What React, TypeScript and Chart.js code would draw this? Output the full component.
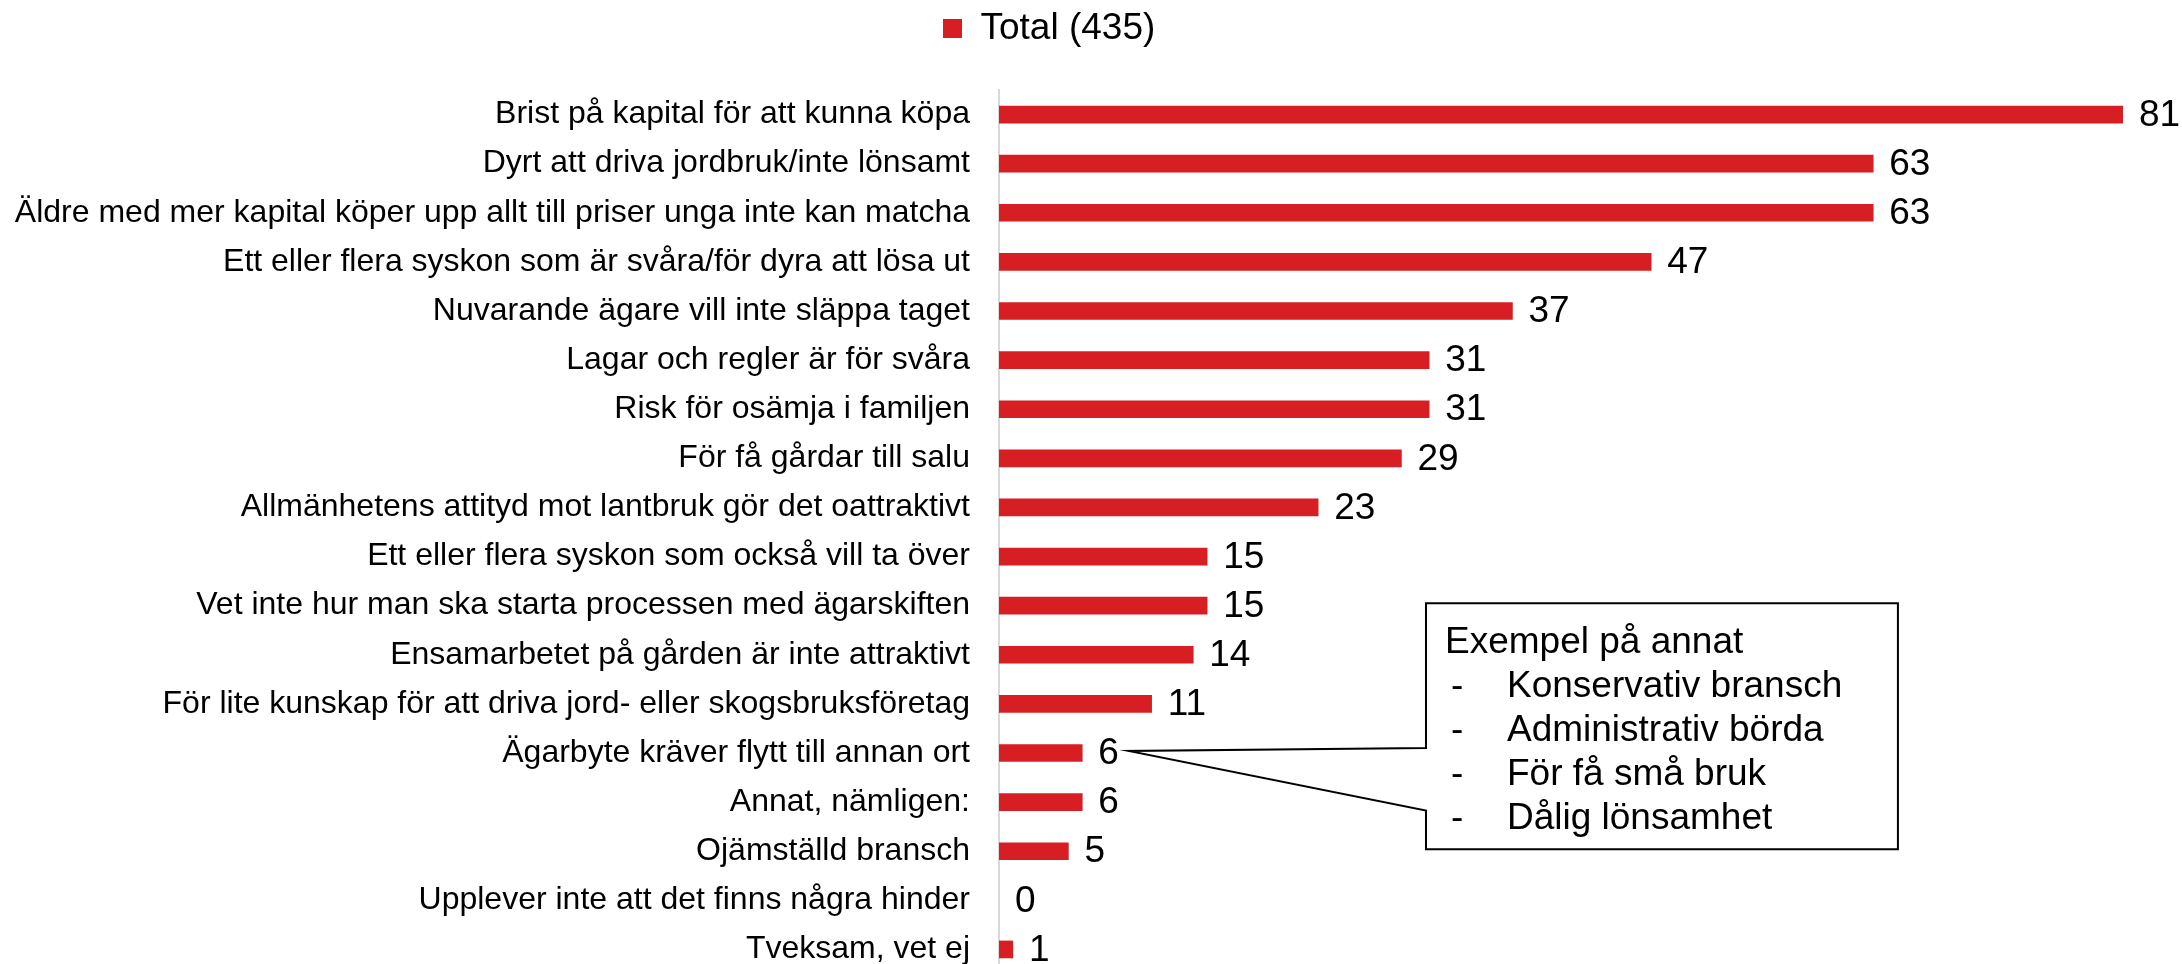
import React, { useEffect, useRef } from 'react';
import { Chart, registerables } from 'chart.js';

Chart.register(...registerables);

const categories = [
  'Brist på kapital för att kunna köpa',
  'Dyrt att driva jordbruk/inte lönsamt',
  'Äldre med mer kapital köper upp allt till priser unga inte kan matcha',
  'Ett eller flera syskon som är svåra/för dyra att lösa ut',
  'Nuvarande ägare vill inte släppa taget',
  'Lagar och regler är för svåra',
  'Risk för osämja i familjen',
  'För få gårdar till salu',
  'Allmänhetens attityd mot lantbruk gör det oattraktivt',
  'Ett eller flera syskon som också vill ta över',
  'Vet inte hur man ska starta processen med ägarskiften',
  'Ensamarbetet på gården är inte attraktivt',
  'För lite kunskap för att driva jord- eller skogsbruksföretag',
  'Ägarbyte kräver flytt till annan ort',
  'Annat, nämligen:',
  'Ojämställd bransch',
  'Upplever inte att det finns några hinder',
  'Tveksam, vet ej',
];

const totalValues = [81, 63, 63, 47, 37, 31, 31, 29, 23, 15, 15, 14, 11, 6, 6, 5, 0, 1];
const seriesLabel = 'Total (435)';

const calloutTitle = 'Exempel på annat';
const calloutItems = ['Konservativ bransch', 'Administrativ börda', 'För få små bruk', 'Dålig lönsamhet'];
const calloutIndex = 13;
// callout box placement in data units (x: value axis, y: category index)
const calloutBox = { xFrom: 30.77, xTo: 64.78, yFrom: 9.95, yTo: 14.96, notchFrom: 12.9, notchTo: 14.17 };

const FONT = "'Liberation Sans', Arial, sans-serif";
const RED = '#d71f23';

export default function App() {
  const ref = useRef<HTMLCanvasElement>(null);

  useEffect(() => {
    document.body.style.margin = '0';
    document.documentElement.style.overflow = 'hidden';
    const canvas = ref.current!;

    const valueLabels = {
      id: 'valueLabels',
      afterDatasetsDraw(chart: any) {
        const ctx = chart.ctx;
        const meta = chart.getDatasetMeta(0);
        ctx.save();
        ctx.font = `37px ${FONT}`;
        ctx.fillStyle = '#000';
        ctx.textAlign = 'left';
        ctx.textBaseline = 'middle';
        meta.data.forEach((bar: any, i: number) => {
          ctx.fillText(String(totalValues[i]), bar.x + 16, bar.y + 1);
        });
        ctx.restore();
      },
    };

    const callout = {
      id: 'callout',
      afterDraw(chart: any) {
        const ctx = chart.ctx;
        const xs = chart.scales.x;
        const ys = chart.scales.y;
        const L = xs.getPixelForValue(calloutBox.xFrom);
        const R = xs.getPixelForValue(calloutBox.xTo);
        const T = ys.getPixelForValue(calloutBox.yFrom);
        const B = ys.getPixelForValue(calloutBox.yTo);
        const nT = ys.getPixelForValue(calloutBox.notchFrom);
        const nB = ys.getPixelForValue(calloutBox.notchTo);
        const bar = chart.getDatasetMeta(0).data[calloutIndex];
        ctx.save();
        ctx.font = `37px ${FONT}`;
        const tipX = bar.x + 16 + ctx.measureText(String(totalValues[calloutIndex])).width + 10;
        const tipY = bar.y - 2;
        ctx.beginPath();
        ctx.moveTo(L, T);
        ctx.lineTo(R, T);
        ctx.lineTo(R, B);
        ctx.lineTo(L, B);
        ctx.lineTo(L, nB);
        ctx.lineTo(tipX, tipY);
        ctx.lineTo(L, nT);
        ctx.closePath();
        ctx.fillStyle = '#fff';
        ctx.fill();
        ctx.strokeStyle = '#000';
        ctx.lineWidth = 2;
        ctx.lineJoin = 'miter';
        ctx.stroke();
        ctx.fillStyle = '#000';
        ctx.textAlign = 'left';
        ctx.textBaseline = 'middle';
        ctx.fillText(calloutTitle, L + 19, T + 40);
        calloutItems.forEach((t, i) => {
          const y = T + 40 + 44 * (i + 1);
          ctx.fillText('-', L + 25, y);
          ctx.fillText(t, L + 81, y);
        });
        ctx.restore();
      },
    };

    const legendShift = {
      id: 'legendShift',
      beforeDraw(chart: any) {
        const lg = chart.legend;
        if (lg) {
          const w = lg.right - lg.left;
          lg.left = 933;
          lg.right = lg.left + w;
        }
      },
    };

    const chart = new Chart(canvas, {
      type: 'bar',
      data: {
        labels: categories,
        datasets: [
          {
            label: seriesLabel,
            data: totalValues,
            backgroundColor: (c: any) => (c.raw === 0 ? 'rgba(0,0,0,0)' : RED),
            borderWidth: 0,
            barThickness: 17,
          },
        ],
      },
      options: {
        indexAxis: 'y',
        responsive: false,
        animation: false,
        layout: { padding: { left: 0, right: 59, top: 0, bottom: 0 } },
        plugins: {
          legend: {
            display: true,
            position: 'top',
            align: 'start',
            labels: {
              boxWidth: 19,
              boxHeight: 19,
              padding: 10,
              color: '#000',
              font: { family: FONT, size: 37 },
              generateLabels: (chart: any) => [
                {
                  text: seriesLabel,
                  fillStyle: RED,
                  strokeStyle: RED,
                  lineWidth: 0,
                  hidden: false,
                  datasetIndex: 0,
                  fontColor: '#000',
                },
              ],
            },
          },
          tooltip: { enabled: false },
        },
        scales: {
          x: {
            position: 'top',
            min: 0,
            max: 81,
            display: true,
            grid: { display: false, drawTicks: false },
            border: { display: false },
            ticks: { display: false },
            afterFit: (s: any) => {
              s.height = 33;
            },
          },
          y: {
            grid: { display: false, drawTicks: false },
            border: { display: true, color: '#d9d9d9', width: 2 },
            ticks: {
              autoSkip: false,
              padding: 29,
              color: '#000',
              font: { family: FONT, size: 32 },
            },
            afterFit: (s: any) => {
              s.width = 999;
              s.paddingTop = 0;
              s.paddingBottom = 0;
            },
          },
        },
      },
      plugins: [valueLabels, callout, legendShift],
    });

    return () => chart.destroy();
  }, []);

  return (
    <div style={{ width: 2182, height: 974, background: '#fff' }}>
      <canvas ref={ref} width={2182} height={974} style={{ display: 'block' }} />
    </div>
  );
}
